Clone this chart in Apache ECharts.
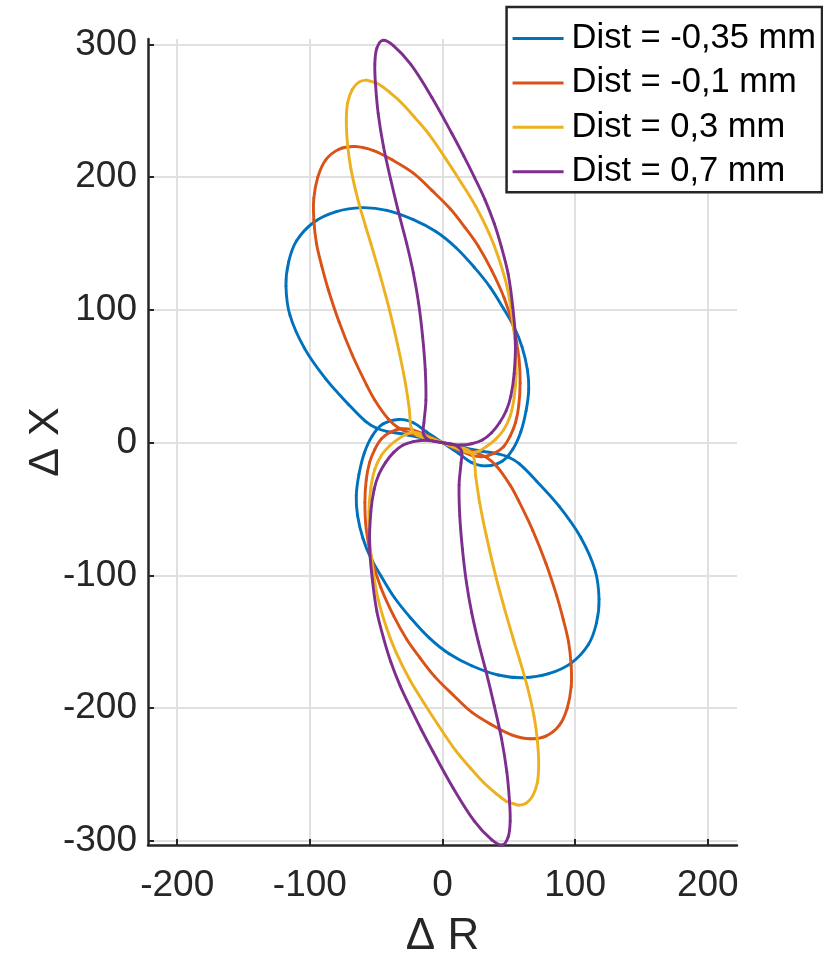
<!DOCTYPE html>
<html><head><meta charset="utf-8">
<script src="https://cdn.jsdelivr.net/npm/echarts@6/dist/echarts.min.js"></script>
<style>html,body{margin:0;padding:0;background:#fff}#c{width:823px;height:956px}</style>
</head><body><div id="c"></div>
<script>
// Legend names
const names = ['Dist = -0,35 mm', 'Dist = -0,1 mm', 'Dist = 0,3 mm', 'Dist = 0,7 mm'];

// Dist = -0,35 mm  (ΔR, ΔX) — upper lobe then lower lobe, closed loop
const r035 = [0,12,22,33,45,53,59,63,65,64,60,54,46,36,24,10,-5,-22,-42,-61,-80,-97,-110,-116,-118,-115,-104,-88,-71,-58,-50,-42,-30,-17,
  0,17,30,42,50,58,71,88,104,115,118,116,110,97,80,61,42,22,5,-10,-24,-36,-46,-54,-60,-64,-65,-63,-59,-53,-45,-33,-22,-12,0];
const x035 = [0,-8,-15,-17.5,-14,-5,8,24,40,55,72,87,101,117,132,147,159,168,175,177,174,166,152,136,118,96,71,48,29,16,11,8.5,6.5,4,
  0,-4,-6.5,-8.5,-11,-16,-29,-48,-71,-96,-118,-136,-152,-166,-174,-177,-175,-168,-159,-147,-132,-117,-101,-87,-72,-55,-40,-24,-8,5,14,17.5,15,8,0];

// Dist = -0,1 mm
const r01 = [0,12,22,31,39,46,51,55,57.5,58.5,57.5,53.5,46.5,37,27,17,6,-8,-22,-38,-52,-66,-78,-88,-94,-97,-97,-95,-91,-86,-78,-68,-57,-51,-41,-33,-24,-12,
  0,12,24,33,41,51,57,68,78,86,91,95,97,97,94,88,78,66,52,38,22,8,-6,-17,-27,-37,-46.5,-53.5,-57.5,-58.5,-57.5,-55,-51,-46,-39,-31,-22,-12,0];
const x01 = [0,-5.5,-9.5,-10.5,-8,-3,5,15,28,45,65,87,109,130,148,162,176,190,203,213,220,223,221,213,200,184,168,150,133,115,91,66,43,32,18,11,7,3.5,
  0,-3.5,-7,-11,-18,-32,-43,-66,-91,-115,-133,-150,-168,-184,-200,-213,-221,-223,-220,-213,-203,-190,-176,-162,-148,-130,-109,-87,-65,-45,-28,-15,-5,3,8,10.5,9.5,5.5,0];

// Dist = 0,3 mm
const r03 = [0,10,20,27,33,40,46,51,54,55.5,55,52.5,48.5,42,35,25,14,3,-10,-21,-31,-40,-48,-54,-57.5,-63,-68,-71.5,-72.5,-71.5,-69,-64,-58,-54,-47,-40,-33,-28,-25,-23.5,-19,-10,
  0,10,19,23.5,25,28,33,40,47,54,58,64,69,71.5,72.5,71.5,68,63,57.5,54,48,40,31,21,10,-3,-14,-25,-35,-42,-48.5,-52.5,-55,-55.5,-54,-51,-46,-40,-33,-27,-20,-10,0];
const x03 = [0,-4,-7.5,-6.5,-3,2.5,9.5,20,34,52,72,95,118,140,158,178,196,213,232,245,256,264,270,272,273,271.5,266,256,242,224,206,184,163,150,126,100,70,45,25,11,5.5,2.5,
  0,-2.5,-5.5,-11,-25,-45,-70,-100,-126,-150,-163,-184,-206,-224,-242,-256,-266,-271.5,-273,-272,-270,-264,-256,-245,-232,-213,-196,-178,-158,-140,-118,-95,-72,-52,-34,-20,-9.5,-2.5,3,6.5,7.5,4,0];

// Dist = 0,7 mm
const r07 = [0,7,14,22,30,37,43,48,51.5,54,55,53,49.5,44.5,39,32,24,16,7,-8,-24,-37,-45,-49.5,-51,-50.5,-48.5,-44.5,-39,-33,-27,-22,-18,-15,-13,-12.5,-14,-14.5,-11,-5,
  0,5,11,14.5,14,12.5,13,15,18,22,27,33,39,44.5,48.5,50.5,51,49.5,45,37,24,8,-7,-16,-24,-32,-39,-44.5,-49.5,-53,-55,-54,-51.5,-48,-43,-37,-30,-22,-14,-7,0];
const x07 = [0,-1.2,-1.8,-0.8,2,7.5,15,24,35,52,77,102,127,147,165,183,200,216,233,260,285,299,303,297,285,270,248,223,198,173,150,128,105,80,55,32,15,7,2.5,0.8,
  0,-0.8,-2.5,-7,-15,-32,-55,-80,-105,-128,-150,-173,-198,-223,-248,-270,-285,-297,-303,-299,-285,-260,-233,-216,-200,-183,-165,-147,-127,-102,-77,-52,-35,-24,-15,-7.5,-2,0.8,1.8,1.2,0];

const colors = ['#0072BD', '#D95319', '#EDB120', '#7E2F8E'];
const rs = [r035, r01, r03, r07];
const xs = [x035, x01, x03, x07];

const FONT = '"Liberation Sans", Arial, Helvetica, sans-serif';
const AX = '#262626';
const GRID = '#e0e0e0';
const LW = 2.9;
const TENSION = 0.36;

// Smooth closed curve through the data points: each data item draws the
// cubic segment to the next point, with tangents from its neighbours (pixel space via api.coord).
function renderSegment(params, api) {
  const s = params.seriesIndex;
  const i = params.dataIndex;
  const R = rs[s], X = xs[s], n = R.length;
  if (i >= n - 1) return null;
  const P = j => api.coord([R[j], X[j]]);
  const i0 = i === 0 ? n - 2 : i - 1;
  const i3 = i + 2 > n - 1 ? 1 : i + 2;
  const p0 = P(i0), p1 = P(i), p2 = P(i + 1), p3 = P(i3);
  const d = (a, b) => Math.hypot(a[0] - b[0], a[1] - b[1]) || 1e-6;
  const d01 = d(p0, p1), d12 = d(p1, p2), d23 = d(p2, p3);
  const r1 = TENSION * d12 / (d01 + d12);
  const r2 = TENSION * d12 / (d12 + d23);
  return {
    type: 'bezierCurve',
    shape: {
      x1: p1[0], y1: p1[1], x2: p2[0], y2: p2[1],
      cpx1: p1[0] + (p2[0] - p0[0]) * r1, cpy1: p1[1] + (p2[1] - p0[1]) * r1,
      cpx2: p2[0] - (p3[0] - p1[0]) * r2, cpy2: p2[1] - (p3[1] - p1[1]) * r2
    },
    style: {stroke: colors[s], lineWidth: LW, fill: null, lineCap: 'round', lineJoin: 'round'},
    silent: true
  };
}

const chart = echarts.init(document.getElementById('c'), null, {renderer: 'canvas'});
const series = names.map((n, i) => ({
  name: n,
  type: 'custom',
  coordinateSystem: 'cartesian2d',
  data: rs[i].map((r, k) => [r, xs[i][k]]),
  encode: {x: 0, y: 1},
  renderItem: renderSegment,
  itemStyle: {color: colors[i]},
  animation: false
}));

chart.setOption({
  animation: false,
  backgroundColor: '#fff',
  textStyle: {fontFamily: FONT},
  grid: {left: 148, right: 86, top: 39, bottom: 111, containLabel: false, outerBoundsMode: 'none'},
  legend: {
    data: names,
    orient: 'vertical',
    right: 1, top: 7,
    icon: 'rect',
    itemWidth: 51, itemHeight: 3,
    itemGap: 9.4,
    padding: [14, 6, 3, 6],
    backgroundColor: '#fff',
    borderColor: AX, borderWidth: 2.5,
    textStyle: {fontSize: 34.5, color: '#000', fontFamily: FONT, padding: [0, 0, 0, 3]}
  },
  xAxis: {
    type: 'value', min: -222, max: 222,
    name: 'Δ R', nameLocation: 'middle', nameGap: 70, nameMoveOverlap: false,
    nameTextStyle: {fontSize: 44, color: AX, fontFamily: FONT},
    axisLine: {show: true, onZero: false, lineStyle: {color: AX, width: 2.5}},
    axisTick: {show: true, inside: true, length: 6, lineStyle: {color: AX, width: 2}},
    axisLabel: {fontSize: 37, color: AX, margin: 22, showMinLabel: false, showMaxLabel: false, fontFamily: FONT},
    splitLine: {show: true, lineStyle: {color: ['transparent', GRID, GRID, GRID, GRID, GRID, 'transparent'], width: 2}}
  },
  yAxis: {
    type: 'value', min: -303, max: 304,
    name: 'Δ X', nameLocation: 'middle', nameGap: 80, nameRotate: 90, nameMoveOverlap: false,
    nameTextStyle: {fontSize: 43, color: AX, fontFamily: FONT},
    axisLine: {show: true, onZero: false, lineStyle: {color: AX, width: 2.5}},
    axisTick: {show: true, inside: true, length: 6, lineStyle: {color: AX, width: 2}},
    axisLabel: {fontSize: 37, color: AX, margin: 11, showMinLabel: false, showMaxLabel: false, fontFamily: FONT},
    splitLine: {show: true, lineStyle: {color: ['transparent', GRID, GRID, GRID, GRID, GRID, GRID, GRID, 'transparent'], width: 2}}
  },
  series: series
});
</script>
</body></html>
